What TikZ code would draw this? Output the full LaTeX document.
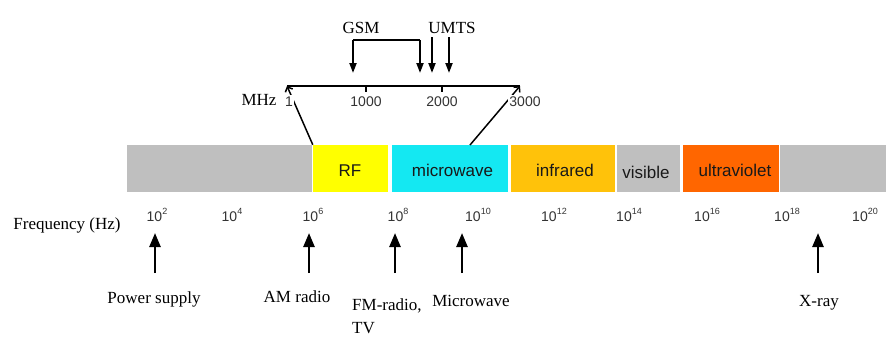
\documentclass[tikz,border=0pt]{standalone}
\usepackage{fontspec}
\setmainfont{Liberation Serif}
\setsansfont{Liberation Sans}
\usetikzlibrary{arrows.meta,positioning}
\definecolor{bgray}{RGB}{191,191,191}
\definecolor{rfy}{RGB}{255,255,0}
\definecolor{mwc}{RGB}{20,232,242}
\definecolor{irg}{RGB}{255,194,10}
\definecolor{uvo}{RGB}{255,102,0}
\newcommand\pw[1]{10\raisebox{.5em}{\fontsize{9}{9}\selectfont#1}}
\tikzset{
  bd/.style={draw=none,inner sep=0pt,minimum height=47pt,text=black!90,font=\sffamily\fontsize{17}{19}\selectfont},
  lb/.style={inner sep=0pt,font=\fontsize{17}{20}\selectfont},
  nm/.style={inner sep=0pt,text=black!80,font=\sffamily\fontsize{14}{16}\selectfont},
  nmw/.style={nm,fill=white,inner sep=1.5pt},
  ax/.style={draw=black,line width=2.4pt},
  tk/.style={draw=black,line width=1.6pt},
  zm/.style={draw=black,line width=1.5pt,-{Straight Barb[length=4pt,width=8pt,line width=1.5pt]}},
  dn/.style={draw=black,line width=2pt,-{Triangle[length=10pt,width=7pt]}},
  upa/.style={draw=black,line width=2.5pt,-{Triangle[length=14pt,width=11pt]}},
}
\begin{document}
\begin{tikzpicture}[x=1pt,y=-1pt]
\useasboundingbox (0,0) rectangle (886,338);
% ---------------- the spectrum bar
\node[bd,fill=bgray,minimum width=185pt] (low) at (219.5,168.5) {};
\node[bd,fill=rfy,minimum width=75pt] (rf) at (350.5,168.5) {};
\node[bd,fill=mwc,minimum width=116pt] (mw) at (450,168.5) {};
\node[bd,fill=irg,minimum width=104pt] (ir) at (563,168.5) {};
\node[bd,fill=bgray,minimum width=63pt] (vis) at (648.5,168.5) {};
\node[bd,fill=uvo,minimum width=96pt] (uv) at (730.5,168.5) {};
\node[bd,fill=bgray,minimum width=106pt] (high) at (833,168.5) {};
\node[bd,anchor=base] at (350,176) {RF};
\node[bd,anchor=base] at (452.5,176) {microwave};
\node[bd,anchor=base] at (565,176) {infrared};
\node[bd,anchor=base] at (646,178) {visible};
\node[bd,anchor=base] at (735,176) {ultraviolet};
% ---------------- the MHz scale above RF and microwave
\coordinate (m1) at (287,86); \coordinate (m3) at (520,86);
\coordinate (mwz) at (470,145);
\draw[ax] (m1) -- (m3);
\coordinate (t1) at (366,86); \coordinate (t2) at (442,86);
\draw[tk] (t1) -- ++(0,6) (t2) -- ++(0,6);
\draw[zm] (rf.north west) -- (m1);
\draw[zm] (mwz) -- (m3);
\node[nmw,anchor=base] (l1) at (289,106) {1};
\node[nmw,anchor=base] (l1000) at (366,106) {1000};
\node[nmw,anchor=base] (l2000) at (442,106) {2000};
\node[nmw,anchor=base] (l3000) at (525,106) {3000};
\node[lb,anchor=base] (mhz) at (259,105) {MHz};
% GSM and UMTS bands
\coordinate (g1) at (353,40); \coordinate (g2) at (420,40);
\coordinate (g1t) at (353,73); \coordinate (g2t) at (420,73);
\draw[tk,line width=2pt] (g1) -- (g2);
\draw[dn] (g1) -- (g1t);
\draw[dn] (g2) -- (g2t);
\coordinate (u1) at (432,37); \coordinate (u2) at (449,37);
\coordinate (u1t) at (432,73); \coordinate (u2t) at (449,73);
\draw[dn] (u1) -- (u1t);
\draw[dn] (u2) -- (u2t);
\node[lb,anchor=base] (gsm) at (361,33) {GSM};
\node[lb,anchor=base] (umts) at (452,33) {UMTS};
% ---------------- frequency axis below the bar
\node[lb,anchor=base] (frq) at (67,229) {Frequency (Hz)};
\node[nm,anchor=base] (e2) at (157,221) {\pw{2}};
\node[nm,anchor=base] (e4) at (232,221) {\pw{4}};
\node[nm,anchor=base] (e6) at (313,221) {\pw{6}};
\node[nm,anchor=base] (e8) at (398,221) {\pw{8}};
\node[nm,anchor=base] (e10) at (478,221) {\pw{10}};
\node[nm,anchor=base] (e12) at (554,221) {\pw{12}};
\node[nm,anchor=base] (e14) at (629,221) {\pw{14}};
\node[nm,anchor=base] (e16) at (707,221) {\pw{16}};
\node[nm,anchor=base] (e18) at (787,221) {\pw{18}};
\node[nm,anchor=base] (e20) at (865,221) {\pw{20}};
% sources, with an arrow up to their frequency
\node[lb,anchor=base] (ps) at (154,303) {Power supply};
\node[lb,anchor=base] (am) at (297,302) {AM radio};
\node[lb,anchor=base west,align=left,font=\fontsize{17}{23}\selectfont] (fm) at (352,333) {FM-radio,\\TV};
\node[lb,anchor=base] (mwv) at (471,306) {Microwave};
\node[lb,anchor=base] (xr) at (819,306) {X-ray};
\coordinate (aps) at (155,273); \coordinate (aps2) at (155,233);
\coordinate (aam) at (309,273); \coordinate (aam2) at (309,233);
\coordinate (afm) at (395,273); \coordinate (afm2) at (395,233);
\coordinate (amw) at (462,273); \coordinate (amw2) at (462,233);
\coordinate (axr) at (818,273); \coordinate (axr2) at (818,233);
\draw[upa] (aps) -- (aps2);
\draw[upa] (aam) -- (aam2);
\draw[upa] (afm) -- (afm2);
\draw[upa] (amw) -- (amw2);
\draw[upa] (axr) -- (axr2);
\end{tikzpicture}
\end{document}
